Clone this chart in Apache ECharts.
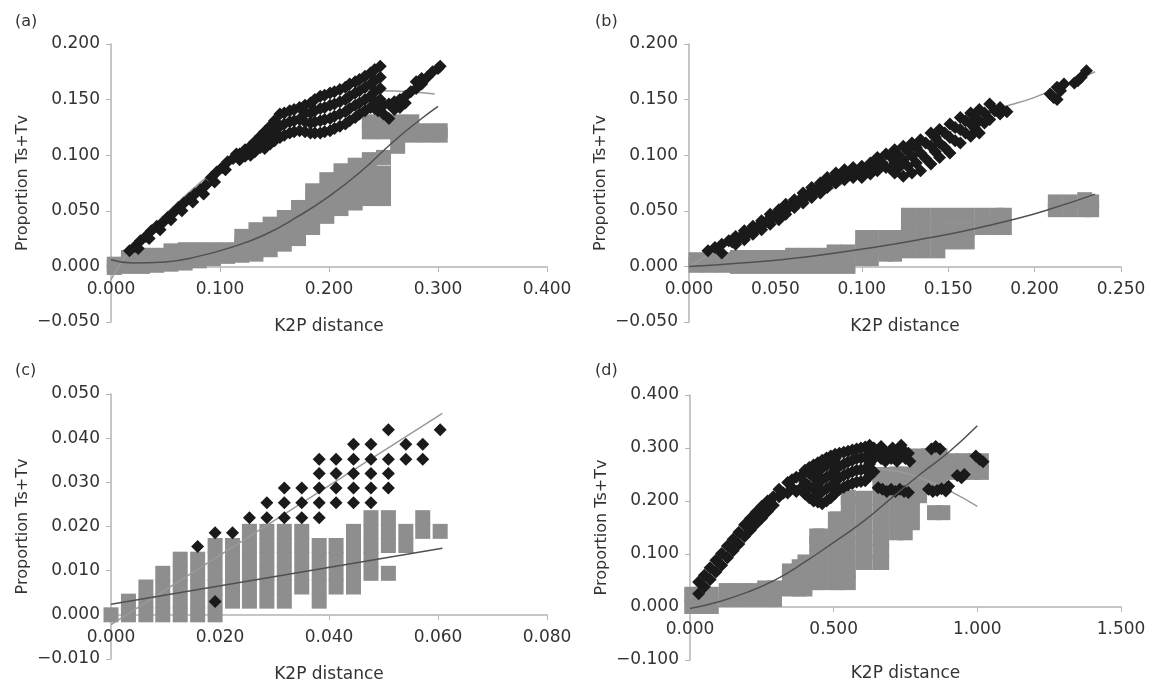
<!DOCTYPE html>
<html>
<head>
<meta charset="utf-8">
<script src="https://cdn.jsdelivr.net/npm/echarts@6/dist/echarts.min.js"></script>
<style>
  html, body { margin: 0; padding: 0; background: #fff; }
  #chart { width: 1155px; height: 686px; }
</style>
</head>
<body>
<div id="chart"></div>
<script>
// ---- panel (a) ----
const aTicksX = ['0.000', '0.100', '0.200', '0.300', '0.400'];
const aTicksY = ['\u22120.050', '0.000', '0.050', '0.100', '0.150', '0.200'];
// black diamonds as columns: [x, [y, ...]]
const aBlack = [
  // lower strip
  [0.017, [0.014]], [0.022, [0.018]], [0.025, [0.016]], [0.027, [0.023]], [0.032, [0.027]], [0.035, [0.025]],
  [0.037, [0.032]], [0.042, [0.036]], [0.045, [0.033]], [0.048, [0.040]], [0.052, [0.044]], [0.055, [0.042]],
  [0.057, [0.048]], [0.062, [0.053]], [0.065, [0.050]], [0.067, [0.057]], [0.072, [0.061]], [0.075, [0.058]],
  [0.077, [0.065]], [0.082, [0.069]], [0.085, [0.065]], [0.087, [0.073]], [0.092, [0.080]], [0.095, [0.076]],
  [0.097, [0.085]], [0.102, [0.089]], [0.105, [0.087]], [0.107, [0.094]], [0.112, [0.097]], [0.115, [0.101]],
  // wide band
  [0.118, [0.096, 0.101]], [0.123, [0.099, 0.105]], [0.128, [0.100, 0.108]], [0.132, [0.103, 0.112]],
  [0.137, [0.107, 0.117]], [0.141, [0.106, 0.114, 0.121]], [0.146, [0.110, 0.118, 0.126]],
  [0.150, [0.113, 0.122, 0.131]], [0.155, [0.116, 0.126, 0.137]], [0.159, [0.118, 0.128, 0.138]],
  [0.164, [0.120, 0.130, 0.140]], [0.168, [0.121, 0.131, 0.141]], [0.173, [0.122, 0.132, 0.143]],
  [0.178, [0.121, 0.130, 0.138, 0.145]], [0.183, [0.120, 0.129, 0.138, 0.147]],
  [0.187, [0.120, 0.130, 0.140, 0.150]], [0.192, [0.120, 0.131, 0.142, 0.153]],
  [0.196, [0.121, 0.132, 0.143, 0.154]], [0.201, [0.122, 0.133, 0.145, 0.156]],
  [0.205, [0.124, 0.135, 0.146, 0.157]], [0.210, [0.126, 0.137, 0.148, 0.159]],
  [0.215, [0.128, 0.139, 0.150, 0.161]], [0.219, [0.131, 0.142, 0.153, 0.164]],
  [0.224, [0.134, 0.145, 0.156, 0.166]], [0.228, [0.137, 0.147, 0.158, 0.168]],
  [0.233, [0.140, 0.150, 0.161, 0.171]], [0.238, [0.143, 0.153, 0.164, 0.174]],
  [0.242, [0.142, 0.147, 0.157, 0.167, 0.177]], [0.247, [0.150, 0.160, 0.170, 0.180]],
  // right branch
  [0.245, [0.140]], [0.250, [0.137, 0.145]], [0.255, [0.133, 0.146]], [0.260, [0.141, 0.148]],
  [0.265, [0.143, 0.150]], [0.270, [0.147, 0.153]], [0.275, [0.157]], [0.280, [0.160, 0.166]],
  [0.285, [0.164, 0.169]], [0.290, [0.170]], [0.295, [0.175]], [0.300, [0.178]], [0.302, [0.180]]
];
// grey squares
const aGrey = [
  [0.003, [-0.001, 0.002]], [0.016, [0.000, 0.008]], [0.029, [0.000, 0.010]], [0.042, [0.001, 0.010]],
  [0.055, [0.002, 0.014]], [0.068, [0.003, 0.015]], [0.081, [0.005, 0.015]], [0.094, [0.007, 0.015]],
  [0.107, [0.009, 0.015]], [0.120, [0.010, 0.020, 0.027]], [0.133, [0.011, 0.022, 0.033]],
  [0.146, [0.015, 0.026, 0.038]], [0.159, [0.020, 0.032, 0.044]], [0.172, [0.025, 0.036, 0.047, 0.053]],
  [0.185, [0.035, 0.046, 0.057, 0.068]], [0.198, [0.045, 0.056, 0.067, 0.078]],
  [0.211, [0.052, 0.063, 0.074, 0.086]], [0.224, [0.057, 0.068, 0.080, 0.091]],
  [0.237, [0.061, 0.072, 0.084, 0.096, 0.121, 0.130]], [0.250, [0.061, 0.072, 0.084, 0.098, 0.121, 0.130]],
  [0.263, [0.108, 0.121, 0.130]], [0.276, [0.118, 0.130]], [0.289, [0.118, 0.122]], [0.302, [0.118, 0.122]]
];
const aBlackTrend = [[0, -0.012], [0.02, 0.017], [0.05, 0.047], [0.1, 0.09], [0.15, 0.124], [0.2, 0.147], [0.25, 0.158], [0.275, 0.157], [0.297, 0.155]];
const aGreyTrend = [[0, 0.006], [0.02, 0.003], [0.05, 0.004], [0.08, 0.009], [0.11, 0.017], [0.14, 0.028], [0.17, 0.044], [0.2, 0.063], [0.23, 0.086], [0.26, 0.113], [0.285, 0.133], [0.3, 0.144]];

// ---- panel (b) ----
const bTicksX = ['0.000', '0.050', '0.100', '0.150', '0.200', '0.250'];
const bTicksY = aTicksY;
const bBlack = [
  [0.011, [0.014]], [0.015, [0.017]], [0.019, [0.020, 0.012]], [0.023, [0.023]], [0.025, [0.022]],
  [0.027, [0.027, 0.020]], [0.0295, [0.026]], [0.032, [0.032, 0.024]], [0.0345, [0.030]],
  [0.037, [0.036, 0.029]], [0.0395, [0.035]], [0.042, [0.041, 0.033]], [0.0445, [0.040]],
  [0.047, [0.047, 0.038]], [0.0495, [0.045]], [0.052, [0.051, 0.042]], [0.054, [0.049]],
  [0.056, [0.056, 0.047]], [0.0585, [0.054]], [0.061, [0.060, 0.053]], [0.0635, [0.059]],
  [0.066, [0.066, 0.057]], [0.0685, [0.064]], [0.071, [0.071, 0.062]], [0.0735, [0.0685]],
  [0.076, [0.075, 0.066]], [0.078, [0.073]], [0.080, [0.080, 0.071]], [0.0825, [0.0775]],
  [0.085, [0.084, 0.075]], [0.0875, [0.081]], [0.090, [0.087, 0.078]], [0.0925, [0.084]],
  [0.095, [0.089, 0.080]], [0.0975, [0.085]], [0.100, [0.090, 0.080]], [0.1025, [0.0865]],
  [0.105, [0.093, 0.083]], [0.107, [0.090]], [0.109, [0.098, 0.086]], [0.1115, [0.0935]],
  [0.114, [0.101, 0.089]], [0.1165, [0.099, 0.088]], [0.119, [0.105, 0.093, 0.084]],
  [0.1215, [0.100, 0.089]], [0.124, [0.108, 0.096, 0.081]], [0.1265, [0.104, 0.090]],
  [0.129, [0.111, 0.099, 0.084]], [0.1315, [0.107, 0.093]], [0.134, [0.114, 0.102, 0.086]],
  [0.137, [0.111, 0.097]], [0.140, [0.120, 0.108, 0.092]], [0.1425, [0.116, 0.103]],
  [0.145, [0.123, 0.111, 0.098]], [0.148, [0.120, 0.107]], [0.151, [0.128, 0.116, 0.102]],
  [0.154, [0.125, 0.113]], [0.157, [0.134, 0.123, 0.111]], [0.160, [0.131, 0.120]],
  [0.163, [0.138, 0.128, 0.117]], [0.1655, [0.134, 0.124]], [0.168, [0.141, 0.131, 0.120]],
  [0.171, [0.138, 0.129]], [0.174, [0.146, 0.132]], [0.177, [0.140]], [0.180, [0.143, 0.137]],
  [0.184, [0.139]],
  [0.209, [0.155]], [0.211, [0.152]], [0.213, [0.161, 0.150]], [0.215, [0.158]], [0.217, [0.164]],
  [0.223, [0.165]], [0.225, [0.167]], [0.227, [0.170]], [0.230, [0.176]]
];
const bGrey = [
  [0.004, [0.001, 0.006]], [0.012, [0.001, 0.006]], [0.020, [0.001, 0.006]], [0.028, [0.000, 0.008]],
  [0.036, [0.000, 0.008]], [0.044, [0.000, 0.008]], [0.052, [0.000, 0.008]], [0.060, [0.000, 0.010]],
  [0.068, [0.000, 0.010]], [0.076, [0.000, 0.010]], [0.084, [0.000, 0.007, 0.013]],
  [0.092, [0.000, 0.007, 0.013]], [0.1005, [0.007, 0.016, 0.026]], [0.1055, [0.007, 0.016, 0.026]],
  [0.114, [0.011, 0.020, 0.026]], [0.119, [0.011, 0.020, 0.026]],
  [0.127, [0.014, 0.025, 0.036, 0.046]], [0.1355, [0.014, 0.025, 0.036, 0.046]],
  [0.144, [0.014, 0.025, 0.036, 0.046]], [0.1525, [0.022, 0.033, 0.046]], [0.161, [0.022, 0.033, 0.046]],
  [0.1695, [0.035, 0.046]], [0.178, [0.035, 0.046]], [0.1825, [0.035, 0.046]],
  [0.212, [0.051, 0.058]], [0.2205, [0.051, 0.058]], [0.229, [0.051, 0.060]], [0.233, [0.051, 0.058]]
];
const bBlackTrend = [[0, 0], [0.05, 0.043], [0.1, 0.083], [0.15, 0.12], [0.18, 0.142], [0.2, 0.152], [0.235, 0.175]];
const bGreyTrend = [[0, 0], [0.03, 0.003], [0.07, 0.009], [0.11, 0.018], [0.14, 0.026], [0.16, 0.032], [0.19, 0.043], [0.21, 0.052], [0.235, 0.065]];

// ---- panel (c) ----
const cTicksX = ['0.000', '0.020', '0.040', '0.060', '0.080'];
const cTicksY = ['\u22120.010', '0.000', '0.010', '0.020', '0.030', '0.040', '0.050'];
const cBlack = [
  [0.0159, [0.0155]], [0.0191, [0.0186, 0.0030]], [0.0223, [0.0186]], [0.0254, [0.0220]],
  [0.0286, [0.0254, 0.0220]], [0.0318, [0.0287, 0.0254, 0.0220]], [0.0350, [0.0287, 0.0254, 0.0220]],
  [0.0382, [0.0352, 0.0320, 0.0287, 0.0254, 0.0220]], [0.0413, [0.0352, 0.0320, 0.0287, 0.0254]],
  [0.0445, [0.0386, 0.0352, 0.0320, 0.0287, 0.0254]], [0.0477, [0.0386, 0.0352, 0.0320, 0.0287, 0.0254]],
  [0.0509, [0.0419, 0.0352, 0.0320, 0.0287]], [0.0541, [0.0386, 0.0352]], [0.0572, [0.0386, 0.0352]],
  [0.0604, [0.0419]]
];
const cGrey = [
  [0.0000, [0]], [0.0032, [0, 0.0031]], [0.0064, [0, 0.0031, 0.0063]], [0.0095, [0, 0.0031, 0.0063, 0.0094]],
  [0.0127, [0, 0.0031, 0.0063, 0.0094, 0.0126]], [0.0159, [0, 0.0031, 0.0063, 0.0094, 0.0126]],
  [0.0191, [0, 0.0031, 0.0063, 0.0094, 0.0126, 0.0157]], [0.0223, [0.0031, 0.0063, 0.0094, 0.0126, 0.0157]],
  [0.0254, [0.0031, 0.0063, 0.0094, 0.0126, 0.0157, 0.0189]], [0.0286, [0.0031, 0.0063, 0.0094, 0.0126, 0.0157, 0.0189]],
  [0.0318, [0.0031, 0.0063, 0.0094, 0.0126, 0.0157, 0.0189]], [0.0350, [0.0063, 0.0094, 0.0126, 0.0157, 0.0189]],
  [0.0382, [0.0031, 0.0063, 0.0094, 0.0126, 0.0157]], [0.0413, [0.0063, 0.0094, 0.0126, 0.0157]],
  [0.0445, [0.0063, 0.0094, 0.0126, 0.0157, 0.0189]], [0.0477, [0.0094, 0.0126, 0.0157, 0.0189, 0.0220]],
  [0.0509, [0.0094, 0.0157, 0.0189, 0.0220]], [0.0541, [0.0157, 0.0189]], [0.0572, [0.0189, 0.0220]],
  [0.0604, [0.0189]]
];
const cBlackTrend = [[0, -0.0022], [0.0608, 0.0456]];
const cGreyTrend = [[0, 0.0024], [0.0608, 0.0151]];

// ---- panel (d) ----
const dTicksX = ['0.000', '0.500', '1.000', '1.500'];
const dTicksY = ['\u22120.100', '0.000', '0.100', '0.200', '0.300', '0.400'];
const dBlack = [
  // rising strip
  [0.03, [0.025, 0.047]], [0.05, [0.038, 0.060]], [0.07, [0.052, 0.074]], [0.09, [0.066, 0.088]],
  [0.11, [0.079, 0.101]], [0.13, [0.093, 0.115]], [0.15, [0.106, 0.128]], [0.17, [0.119, 0.141]],
  [0.19, [0.133, 0.155]], [0.21, [0.145, 0.167]], [0.23, [0.157, 0.179]], [0.25, [0.168, 0.190]],
  [0.27, [0.180, 0.200]], [0.29, [0.192, 0.208]],
  // main cloud
  [0.31, [0.208, 0.222]], [0.325, [0.215]], [0.34, [0.215, 0.235]], [0.355, [0.225, 0.240]],
  [0.37, [0.218, 0.245]], [0.385, [0.224, 0.246]], [0.40, [0.213, 0.235, 0.258]],
  [0.415, [0.206, 0.228, 0.252, 0.263]], [0.43, [0.200, 0.222, 0.245, 0.268]],
  [0.445, [0.198, 0.211, 0.233, 0.255, 0.272]], [0.46, [0.195, 0.218, 0.240, 0.262, 0.277]],
  [0.475, [0.200, 0.223, 0.245, 0.267, 0.281]], [0.49, [0.206, 0.228, 0.250, 0.272, 0.285]],
  [0.505, [0.214, 0.236, 0.258, 0.280, 0.288]], [0.52, [0.222, 0.244, 0.266, 0.290]],
  [0.535, [0.226, 0.248, 0.270, 0.292]], [0.55, [0.230, 0.252, 0.274, 0.294]],
  [0.565, [0.233, 0.255, 0.277, 0.296]], [0.58, [0.236, 0.258, 0.280, 0.298]],
  [0.595, [0.237, 0.259, 0.281, 0.300]], [0.61, [0.238, 0.260, 0.282, 0.302]],
  [0.625, [0.247, 0.270, 0.291, 0.305]], [0.64, [0.255, 0.280, 0.300]],
  // upper right lumps
  [0.655, [0.290, 0.225]], [0.665, [0.303, 0.280]], [0.67, [0.222]], [0.675, [0.295]], [0.68, [0.275]],
  [0.685, [0.218]], [0.69, [0.290]], [0.70, [0.280, 0.222]], [0.705, [0.300]], [0.715, [0.292, 0.218]],
  [0.72, [0.275]], [0.73, [0.285, 0.222]], [0.735, [0.305]], [0.745, [0.295, 0.218]], [0.75, [0.280]],
  [0.76, [0.290, 0.216]], [0.765, [0.275]],
  [0.84, [0.298]], [0.855, [0.303]], [0.87, [0.298]],
  [0.83, [0.222]], [0.845, [0.218]], [0.86, [0.220]], [0.875, [0.223]], [0.89, [0.219]], [0.90, [0.228]],
  [0.93, [0.248]], [0.945, [0.244]], [0.955, [0.250]],
  [0.995, [0.285]], [1.008, [0.279]], [1.02, [0.274]]
];
const dGrey = [
  [0.006, [0.001, 0.024]], [0.040, [0.001, 0.024]], [0.074, [0.001, 0.024]],
  [0.126, [0.014, 0.031]], [0.170, [0.014, 0.031]], [0.215, [0.014, 0.031]], [0.260, [0.014, 0.036]], [0.294, [0.014, 0.036]],
  [0.346, [0.034, 0.055, 0.068]], [0.380, [0.034, 0.058, 0.076]], [0.400, [0.034, 0.058, 0.085]],
  [0.441, [0.046, 0.070, 0.095, 0.120, 0.134]], [0.454, [0.046, 0.070, 0.095, 0.120, 0.134]],
  [0.506, [0.046, 0.070, 0.095, 0.120, 0.145, 0.166]], [0.514, [0.046, 0.070, 0.095, 0.120, 0.145, 0.166]],
  [0.551, [0.046, 0.070, 0.095, 0.120, 0.145, 0.170, 0.195, 0.207]],
  [0.603, [0.084, 0.105, 0.130, 0.155, 0.180, 0.205]], [0.609, [0.084, 0.105, 0.130, 0.155, 0.180, 0.205]],
  [0.661, [0.084, 0.105, 0.130, 0.155, 0.180, 0.205, 0.230, 0.250]], [0.667, [0.084, 0.105, 0.130, 0.155, 0.180, 0.205, 0.230, 0.250]],
  [0.719, [0.140, 0.165, 0.190, 0.215, 0.240, 0.251]], [0.749, [0.140, 0.165, 0.190, 0.215, 0.240, 0.251]],
  [0.774, [0.159, 0.185, 0.210, 0.235, 0.246]], [0.799, [0.210, 0.235]],
  [0.851, [0.178]], [0.880, [0.178]],
  [0.792, [0.240, 0.262, 0.285]], [0.830, [0.240, 0.262, 0.285]], [0.870, [0.240, 0.262, 0.285]],
  [0.910, [0.254, 0.276]], [0.950, [0.254, 0.276]], [0.990, [0.254, 0.276]], [1.014, [0.254, 0.276]]
];
const dBlackTrend = [[0, 0.015], [0.1, 0.095], [0.2, 0.155], [0.3, 0.203], [0.4, 0.235], [0.5, 0.255], [0.6, 0.262], [0.7, 0.258], [0.8, 0.244], [0.9, 0.22], [1.0, 0.19]];
const dGreyTrend = [[0, -0.003], [0.1, 0.01], [0.2, 0.028], [0.3, 0.052], [0.4, 0.085], [0.5, 0.122], [0.6, 0.16], [0.7, 0.205], [0.8, 0.25], [0.9, 0.292], [1.0, 0.342]];

// expand [x, [y..]] columns into points
function points(cols) {
  const out = [];
  cols.forEach(function (c) {
    c[1].forEach(function (y) { out.push([c[0], y]); });
  });
  return out;
}

const FONT = 'DejaVu Sans';
// zeroShift: how far the x axis sits above the grid bottom (it crosses y = 0)
const panels = [
  { tag: '(a)', grid: { left: 111, top: 44, width: 436, height: 278 }, tagPos: [10, 9], zeroShift: 55, nameGap: 51,
    x: [0, 0.4, 0.1], y: [-0.05, 0.2, 0.05], xl: aTicksX, yl: aTicksY,
    black: aBlack, grey: aGrey, bt: aBlackTrend, gt: aGreyTrend },
  { tag: '(b)', grid: { left: 689, top: 44, width: 432, height: 278 }, tagPos: [590, 9], zeroShift: 55, nameGap: 51,
    x: [0, 0.25, 0.05], y: [-0.05, 0.2, 0.05], xl: bTicksX, yl: bTicksY,
    black: bBlack, grey: bGrey, bt: bBlackTrend, gt: bGreyTrend },
  { tag: '(c)', grid: { left: 111, top: 394, width: 436, height: 265 }, tagPos: [10, 358], zeroShift: 44, nameGap: 51,
    x: [0, 0.08, 0.02], y: [-0.01, 0.05, 0.01], xl: cTicksX, yl: cTicksY,
    black: cBlack, grey: cGrey, bt: cBlackTrend, gt: cGreyTrend },
  { tag: '(d)', grid: { left: 690, top: 395, width: 431, height: 265 }, tagPos: [590, 358], zeroShift: 53, nameGap: 58,
    x: [0, 1.5, 0.5], y: [-0.1, 0.4, 0.1], xl: dTicksX, yl: dTicksY,
    black: dBlack, grey: dGrey, bt: dBlackTrend, gt: dGreyTrend }
];

const axisGrey = '#b4b4b4';
const option = {
  animation: false,
  backgroundColor: '#ffffff',
  title: [], grid: [], xAxis: [], yAxis: [], series: []
};

panels.forEach(function (p, i) {
  option.title.push({
    text: p.tag, left: p.tagPos[0], top: p.tagPos[1],
    textStyle: { fontFamily: FONT, fontSize: 16, fontWeight: 'normal', color: '#333' }
  });
  option.grid.push(Object.assign({ containLabel: false, outerBoundsMode: 'none' }, p.grid));
  option.xAxis.push({
    type: 'value', gridIndex: i, min: p.x[0], max: p.x[1], interval: p.x[2],
    position: 'bottom', offset: -p.zeroShift,
    name: 'K2P distance', nameLocation: 'middle', nameGap: p.nameGap, nameMoveOverlap: false,
    nameTextStyle: { fontFamily: FONT, fontSize: 17, color: '#333' },
    axisLine: { show: true, onZero: false, lineStyle: { color: axisGrey, width: 1.5 } },
    axisTick: { show: true, length: 5, lineStyle: { color: axisGrey } },
    splitLine: { show: false },
    axisLabel: {
      fontFamily: FONT, fontSize: 17, color: '#333', margin: 14,
      formatter: function (v) { return p.xl[Math.round((v - p.x[0]) / p.x[2])]; }
    }
  });
  option.yAxis.push({
    type: 'value', gridIndex: i, min: p.y[0], max: p.y[1], interval: p.y[2],
    name: 'Proportion Ts+Tv', nameLocation: 'middle', nameRotate: 90, nameGap: 80,
    nameTextStyle: { fontFamily: FONT, fontSize: 16, color: '#333' },
    axisLine: { show: true, onZero: false, lineStyle: { color: axisGrey, width: 1.5 } },
    axisTick: { show: true, length: 5, lineStyle: { color: axisGrey } },
    splitLine: { show: false },
    axisLabel: {
      fontFamily: FONT, fontSize: 17, color: '#333', margin: 11,
      formatter: function (v) { return p.yl[Math.round((v - p.y[0]) / p.y[2])]; }
    }
  });
  option.series.push(
    { type: 'scatter', xAxisIndex: i, yAxisIndex: i, data: points(p.grey), symbol: 'rect', symbolSize: 15,
      itemStyle: { color: '#8e8e8e', opacity: 1 }, z: 2, silent: true },
    { type: 'line', xAxisIndex: i, yAxisIndex: i, data: p.bt, smooth: true, showSymbol: false,
      lineStyle: { color: '#9a9a9a', width: 1.5 }, z: 3, silent: true },
    { type: 'scatter', xAxisIndex: i, yAxisIndex: i, data: points(p.black), symbol: 'diamond', symbolSize: 13,
      itemStyle: { color: '#1a1a1a', opacity: 1 }, z: 4, silent: true },
    { type: 'line', xAxisIndex: i, yAxisIndex: i, data: p.gt, smooth: true, showSymbol: false,
      lineStyle: { color: '#505050', width: 1.5 }, z: 5, silent: true }
  );
});

const chart = echarts.init(document.getElementById('chart'));
chart.setOption(option);
window.addEventListener('resize', function () { chart.resize(); });
</script>
</body>
</html>
